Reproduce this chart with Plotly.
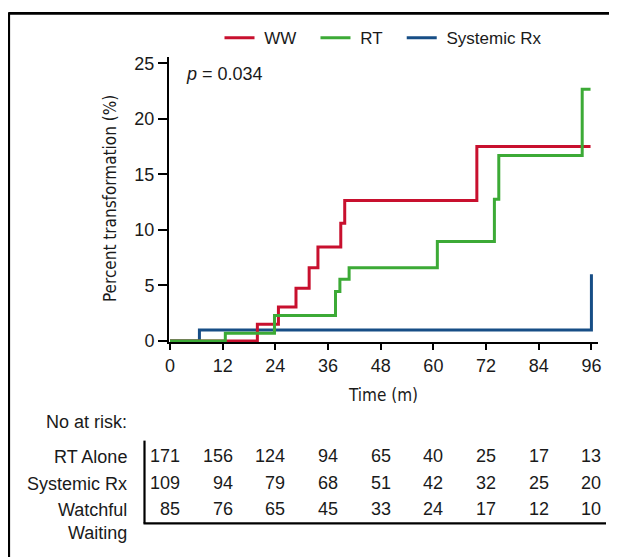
import plotly.graph_objects as go

# ---------------- data ----------------
ww_time = [0, 19.9, 24.7, 28.7, 31.7, 33.7, 38.9, 39.8, 69.9, 95.8]
ww_pct = [0, 1.5, 3.05, 4.75, 6.6, 8.45, 10.6, 12.65, 17.5, 17.5]

rt_time = [0, 12.6, 23.8, 37.7, 38.7, 40.8, 60.9, 73.9, 74.9, 93.9, 95.8]
rt_pct = [0, 0.7, 2.3, 4.45, 5.55, 6.6, 8.95, 12.75, 16.7, 22.65, 22.65]

sys_time = [0, 6.7, 96]
sys_pct = [0, 1.0, 6.0]

x_ticks = [0, 12, 24, 36, 48, 60, 72, 84, 96]
y_ticks = [0, 5, 10, 15, 20, 25]

risk_labels = ["RT Alone", "Systemic Rx", "Watchful<br>Waiting"]
risk_rt = [171, 156, 124, 94, 65, 40, 25, 17, 13]
risk_sys = [109, 94, 79, 68, 51, 42, 32, 25, 20]
risk_ww = [85, 76, 65, 45, 33, 24, 17, 12, 10]

# ---------------- layout constants ----------------
OFF = 8  # page body margin
W, H = 617, 560
L, R, T, B = 161, 27, 45, 226
PW, PH = W - L - R, H - T - B

def px(xp):
    return (xp - OFF - L) / PW

def py(yp):
    return (H - B - (yp - OFF)) / PH

RED = "#C8102E"
GREEN = "#3CAA36"
BLUE = "#174E86"
FONT = "Liberation Sans, Arial, Helvetica, sans-serif"
NARROW = "DejaVu Sans Condensed, Liberation Sans Narrow, sans-serif"
TXT = "#1a1a1a"
NB = "\u00a0"

fig = go.Figure()
fig.add_trace(go.Scatter(x=sys_time, y=sys_pct, mode="lines", line=dict(color=BLUE, width=3, shape="hv"),
                         name=NB + "Systemic Rx", legendrank=3))
fig.add_trace(go.Scatter(x=ww_time, y=ww_pct, mode="lines", line=dict(color=RED, width=3, shape="hv"),
                         name=NB + "WW" + NB * 3, legendrank=1))
fig.add_trace(go.Scatter(x=rt_time, y=rt_pct, mode="lines", line=dict(color=GREEN, width=3, shape="hv"),
                         name=NB + "RT" + NB * 3, legendrank=2))

annotations = []
# p-value
annotations.append(dict(x=px(184), y=py(70), xref="paper", yref="paper", xanchor="left", yanchor="middle",
                        text="<i>p</i> = 0.034", showarrow=False, font=dict(family=FONT, size=18, color=TXT)))
# axis titles
annotations.append(dict(x=px(383), y=py(396), xref="paper", yref="paper", xanchor="center", yanchor="middle",
                        text="Time (m)", showarrow=False, font=dict(family=NARROW, size=17, color=TXT)))
annotations.append(dict(x=px(110), y=py(197), xref="paper", yref="paper", xanchor="center", yanchor="middle",
                        text="Percent transformation (%)", textangle=-90, showarrow=False,
                        font=dict(family=NARROW, size=17, color=TXT)))
# risk table
annotations.append(dict(x=px(128.5), y=py(423), xref="paper", yref="paper", xanchor="right", yanchor="middle",
                        text="No at risk:", showarrow=False, font=dict(family=FONT, size=18, color=TXT)))
row_y = [458, 485, 511.5]
for lab, yy in zip(risk_labels, row_y):
    annotations.append(dict(x=px(128.5), y=py(yy), xref="paper", yref="paper", xanchor="right",
                            yanchor="top", yshift=11, text=lab, align="right", showarrow=False,
                            font=dict(family=FONT, size=18, color=TXT)))
for vals, yy in zip([risk_rt, risk_sys, risk_ww], row_y):
    for t, v in zip(x_ticks, vals):
        annotations.append(dict(x=t, y=py(yy), xref="x", yref="paper", xanchor="right", yanchor="middle",
                                xshift=12, text=str(v), showarrow=False,
                                font=dict(family=FONT, size=18, color=TXT)))

shapes = [
    # table lines
    dict(type="line", xref="paper", yref="paper", x0=px(144.5), x1=px(144.5), y0=py(442), y1=py(526),
         line=dict(color="black", width=2.2)),
    dict(type="line", xref="paper", yref="paper", x0=px(143.5), x1=px(606), y0=py(526), y1=py(526),
         line=dict(color="black", width=2.2)),
    # figure frame (top and left)
    dict(type="line", xref="paper", yref="paper", x0=px(8.8), x1=px(617), y0=py(8.8), y1=py(8.8),
         line=dict(color="black", width=2.6)),
    dict(type="line", xref="paper", yref="paper", x0=px(8.8), x1=px(8.8), y0=py(7.5), y1=py(560),
         line=dict(color="black", width=2.6)),
]

fig.update_layout(
    width=W, height=H,
    margin=dict(l=L, r=R, t=T, b=B, pad=0),
    paper_bgcolor="white", plot_bgcolor="white",
    font=dict(family=FONT, size=18, color=TXT),
    showlegend=True,
    legend=dict(orientation="h", x=px(383), y=py(34), xanchor="center", yanchor="middle",
                font=dict(family=FONT, size=17, color=TXT), traceorder="normal",
                itemwidth=30, bgcolor="white", borderwidth=0, maxheight=300),
    xaxis=dict(range=[-0.23, 97.5], tickvals=x_ticks, ticks="outside", ticklen=6, tickwidth=2,
               tickcolor="black", showline=True, linecolor="black", linewidth=2, showgrid=False,
               zeroline=False, tickfont=dict(family=FONT, size=18, color=TXT)),
    yaxis=dict(range=[-0.09, 25.56], tickvals=y_ticks, ticks="outside", ticklen=9, tickwidth=2,
               tickcolor="black", showline=True, linecolor="black", linewidth=2, showgrid=False,
               zeroline=False, tickfont=dict(family=FONT, size=18, color=TXT)),
    annotations=annotations,
    shapes=shapes,
)

fig.write_html("out.html", config={"displayModeBar": False})
